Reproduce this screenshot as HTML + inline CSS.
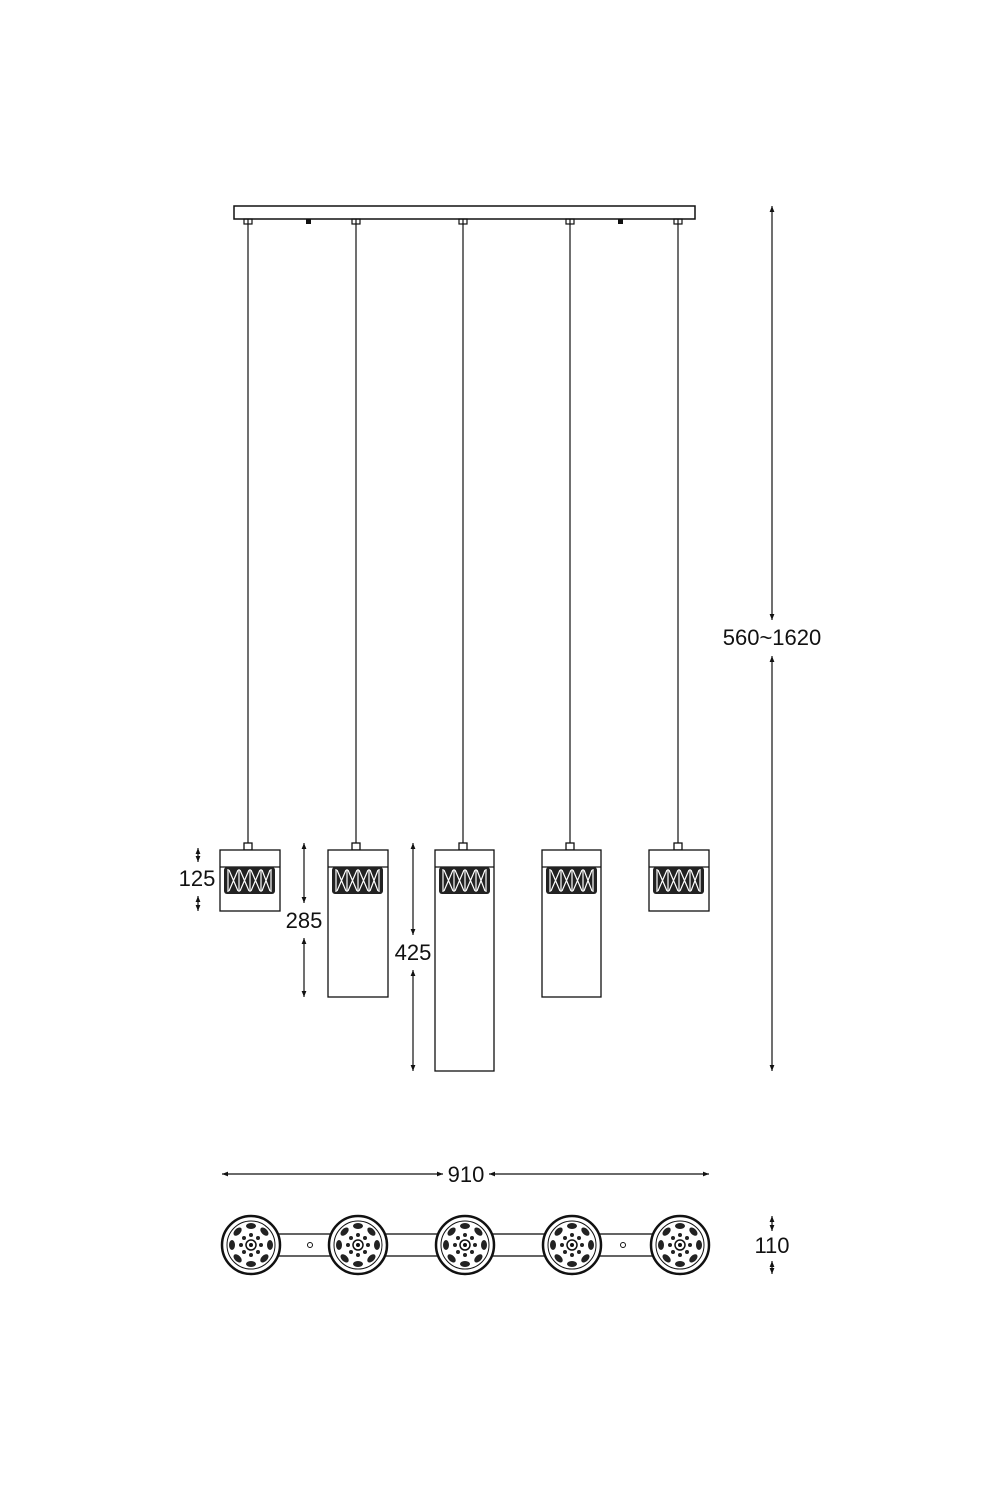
<!DOCTYPE html>
<html><head><style>body{margin:0;background:#fff}svg{display:block}text{font-family:"Liberation Sans",sans-serif;font-size:22px;fill:#111}</style></head><body>
<svg width="1000" height="1500" viewBox="0 0 1000 1500">
<defs>
<marker id="a" viewBox="0 0 10 10" refX="10" refY="5" markerWidth="6" markerHeight="14" orient="auto-start-reverse" markerUnits="userSpaceOnUse"><path d="M0,1L10,5L0,9z" fill="#111"/></marker>
<g id="band">
<rect x="4" y="17" width="51" height="27" rx="3" fill="#222"/>
<g stroke="#fff" stroke-width="1.2" fill="none">
<path d="M8,19v23M19,19v23M30,19v23M41,19v23M51,19v23"/>
<path d="M9,20l9,21M18,20l-9,21M20,20l9,21M29,20l-9,21M31,20l9,21M40,20l-9,21M42,20l8,21M50,20l-8,21"/>
</g></g>
<g id="ros">
<circle r="29" fill="#fff" stroke="#111" stroke-width="2.5"/>
<circle r="24" fill="none" stroke="#111" stroke-width="1"/>
<g fill="#222">
<ellipse cx="0" cy="-19" rx="5" ry="3"/><ellipse cx="0" cy="19" rx="5" ry="3"/>
<ellipse cx="-19" cy="0" rx="3" ry="5"/><ellipse cx="19" cy="0" rx="3" ry="5"/>
<ellipse cx="13.4" cy="-13.4" rx="5" ry="3" transform="rotate(45 13.4 -13.4)"/>
<ellipse cx="-13.4" cy="13.4" rx="5" ry="3" transform="rotate(45 -13.4 13.4)"/>
<ellipse cx="-13.4" cy="-13.4" rx="5" ry="3" transform="rotate(-45 -13.4 -13.4)"/>
<ellipse cx="13.4" cy="13.4" rx="5" ry="3" transform="rotate(-45 13.4 13.4)"/>
<circle cx="0" cy="-10" r="2"/><circle cx="0" cy="10" r="2"/><circle cx="-10" cy="0" r="2"/><circle cx="10" cy="0" r="2"/>
<circle cx="7" cy="-7" r="2"/><circle cx="-7" cy="7" r="2"/><circle cx="-7" cy="-7" r="2"/><circle cx="7" cy="7" r="2"/>
</g>
<circle r="5" fill="none" stroke="#111" stroke-width="1.5"/><circle r="2" fill="#111"/>
</g>
</defs>
<g stroke="#111" fill="none" stroke-width="1.2">
<rect x="234" y="206" width="461" height="13" stroke-width="1.5"/>
<path d="M248,219V843M356,219V843M463,219V843M570,219V843M678,219V843"/>
<rect x="244" y="219" width="8" height="5"/><rect x="352" y="219" width="8" height="5"/><rect x="459" y="219" width="8" height="5"/><rect x="566" y="219" width="8" height="5"/><rect x="674" y="219" width="8" height="5"/>
</g>
<rect x="306" y="219" width="5" height="5" fill="#111"/><rect x="618" y="219" width="5" height="5" fill="#111"/>
<g stroke="#111" fill="#fff" stroke-width="1.3">
<rect x="244" y="843" width="8" height="7"/><rect x="352" y="843" width="8" height="7"/><rect x="459" y="843" width="8" height="7"/><rect x="566" y="843" width="8" height="7"/><rect x="674" y="843" width="8" height="7"/>
<rect x="220" y="850" width="60" height="61"/><line x1="220" y1="867" x2="280" y2="867"/>
<rect x="328" y="850" width="60" height="147"/><line x1="328" y1="867" x2="388" y2="867"/>
<rect x="435" y="850" width="59" height="221"/><line x1="435" y1="867" x2="494" y2="867"/>
<rect x="542" y="850" width="59" height="147"/><line x1="542" y1="867" x2="601" y2="867"/>
<rect x="649" y="850" width="60" height="61"/><line x1="649" y1="867" x2="709" y2="867"/>
</g>
<use href="#band" x="220" y="850"/><use href="#band" x="328" y="850"/><use href="#band" x="435" y="850"/><use href="#band" x="542" y="850"/><use href="#band" x="649" y="850"/>
<g stroke="#111" stroke-width="1.2" marker-start="url(#a)" marker-end="url(#a)">
<line x1="198" y1="848" x2="198" y2="862"/><line x1="198" y1="896" x2="198" y2="911"/>
<line x1="304" y1="843" x2="304" y2="903"/><line x1="304" y1="938" x2="304" y2="997"/>
<line x1="413" y1="843" x2="413" y2="935"/><line x1="413" y1="970" x2="413" y2="1071"/>
<line x1="772" y1="206" x2="772" y2="620"/><line x1="772" y1="656" x2="772" y2="1071"/>
<line x1="222" y1="1174" x2="443" y2="1174"/><line x1="489" y1="1174" x2="709" y2="1174"/>
<line x1="772" y1="1216" x2="772" y2="1231"/><line x1="772" y1="1261" x2="772" y2="1274"/>
</g>
<g text-anchor="middle">
<text x="197" y="886">125</text><text x="304" y="928">285</text><text x="413" y="960">425</text>
<text x="772" y="645">560~1620</text><text x="466" y="1182">910</text><text x="772" y="1253">110</text>
</g>
<rect x="251" y="1234" width="429" height="22" fill="#fff" stroke="#111" stroke-width="1.3"/>
<circle cx="310" cy="1245" r="2.5" fill="none" stroke="#111"/><circle cx="623" cy="1245" r="2.5" fill="none" stroke="#111"/>
<use href="#ros" x="251" y="1245"/><use href="#ros" x="358" y="1245"/><use href="#ros" x="465" y="1245"/><use href="#ros" x="572" y="1245"/><use href="#ros" x="680" y="1245"/>
</svg>
</body></html>
